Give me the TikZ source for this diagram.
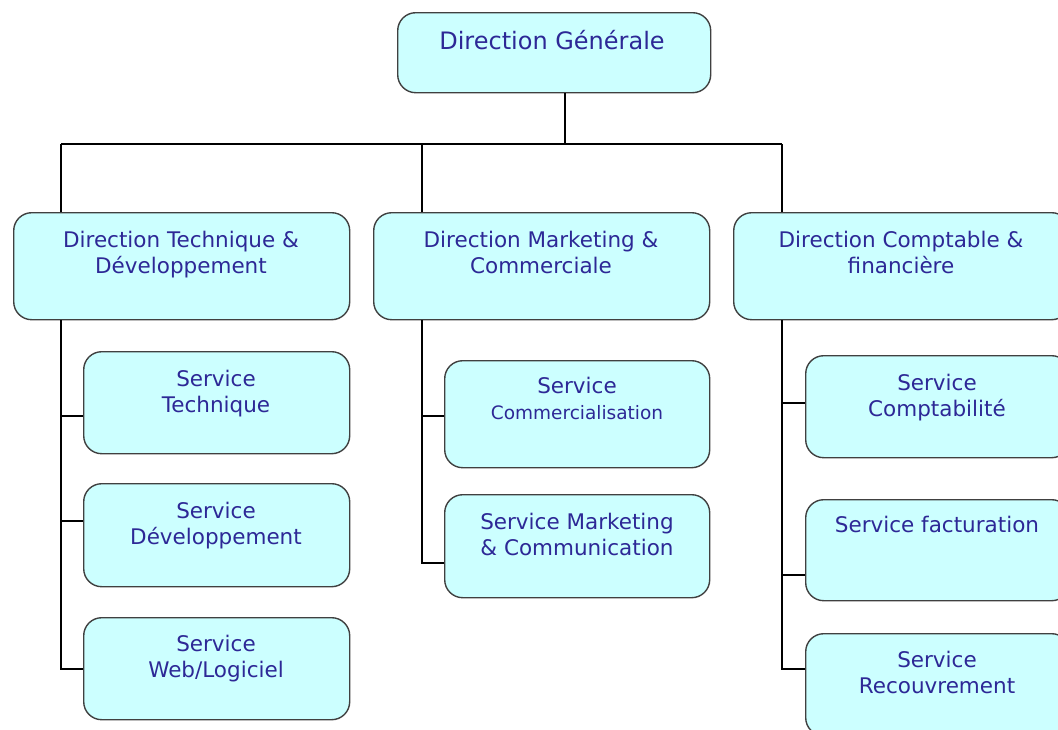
\documentclass[tikz,border=0pt]{standalone}
\usepackage{fontspec}
\setmainfont{DejaVu Sans}
\definecolor{boxfill}{RGB}{204,255,255}
\definecolor{boxline}{RGB}{64,64,64}
\definecolor{txtcol}{RGB}{45,40,150}
\begin{document}
\begin{tikzpicture}[x=1pt,y=-1pt,
  box/.style={draw=boxline, fill=boxfill, line width=1.4pt, rounded corners=18pt, anchor=north west, inner sep=0pt},
  txt/.style={text=txtcol, align=center, inner sep=0pt, anchor=base, font=\fontsize{21.5}{25.5}\selectfont},
  conn/.style={line width=1.4pt, draw=black}]
\useasboundingbox (0,0) rectangle (1058,729);
\clip (0,0) rectangle (1058,729);
% boxes
\node[box, minimum width=313pt, minimum height=80pt] (dg) at (397,12) {};
\node[box, minimum width=336pt, minimum height=107pt] (dtd) at (13,212) {};
\node[box, minimum width=336pt, minimum height=107pt] (dmc) at (373,212) {};
\node[box, minimum width=336pt, minimum height=107pt] (dcf) at (733,212) {};
\node[box, minimum width=266pt, minimum height=102pt] (st1) at (83,351) {};
\node[box, minimum width=266pt, minimum height=103pt] (st2) at (83,483) {};
\node[box, minimum width=266pt, minimum height=102pt] (st3) at (83,617) {};
\node[box, minimum width=265pt, minimum height=107pt] (sm1) at (444,360) {};
\node[box, minimum width=265pt, minimum height=103pt] (sm2) at (444,494) {};
\node[box, minimum width=264pt, minimum height=102pt] (sc1) at (805,355) {};
\node[box, minimum width=264pt, minimum height=101pt] (sc2) at (805,499) {};
\node[box, minimum width=264pt, minimum height=102pt] (sc3) at (805,633) {};
% texts (base anchor = baseline of the last line)
\node[txt, font=\fontsize{24}{28}\selectfont] (tdg) at (552,49) {Direction Générale};
\node[txt] (tdtd) at (181,273) {Direction Technique \&\\Développement};
\node[txt] (tdmc) at (541,273) {Direction Marketing \&\\Commerciale};
\node[txt] (tdcf) at (901,273) {Direction Comptable \&\\financière};
\node[txt] (tst1) at (216,412) {Service\\Technique};
\node[txt] (tst2) at (216,544) {Service\\Développement};
\node[txt] (tst3) at (216,677) {Service\\Web/Logiciel};
\node[txt] (tsm1) at (577,419) {Service\\{\fontsize{18.5}{22}\selectfont Commercialisation}};
\node[txt] (tsm2) at (577,555) {Service Marketing\\\& Communication};
\node[txt] (tsc1) at (937,416) {Service\\Comptabilité};
\node[txt] (tsc2) at (937,532) {Service facturation};
\node[txt] (tsc3) at (937,693) {Service\\Recouvrement};
% connectors
\coordinate (bT) at (565,144);
\coordinate (bL) at (61,144);
\coordinate (bM) at (422,144);
\coordinate (bR) at (782,144);
\draw[conn] (dg.south -| bT) -- (bT);
\draw[conn] (bL) -- (bR);
\draw[conn] (bL) -- (bL |- dtd.north);
\draw[conn] (bM) -- (bM |- dmc.north);
\draw[conn] (bR) -- (bR |- dcf.north);
% left column
\coordinate (jL1) at (61,416);
\coordinate (jL2) at (61,521);
\coordinate (jL3) at (61,669);
\draw[conn] (bL |- dtd.south) -- (jL3) -- (jL3 -| st3.west);
\draw[conn] (jL1) -- (jL1 -| st1.west);
\draw[conn] (jL2) -- (jL2 -| st2.west);
% middle column
\coordinate (jM1) at (422,416);
\coordinate (jM2) at (422,563);
\draw[conn] (bM |- dmc.south) -- (jM2) -- (jM2 -| sm2.west);
\draw[conn] (jM1) -- (jM1 -| sm1.west);
% right column
\coordinate (jR1) at (782,403);
\coordinate (jR2) at (782,575);
\coordinate (jR3) at (782,669);
\draw[conn] (bR |- dcf.south) -- (jR3) -- (jR3 -| sc3.west);
\draw[conn] (jR1) -- (jR1 -| sc1.west);
\draw[conn] (jR2) -- (jR2 -| sc2.west);
\end{tikzpicture}
\end{document}
